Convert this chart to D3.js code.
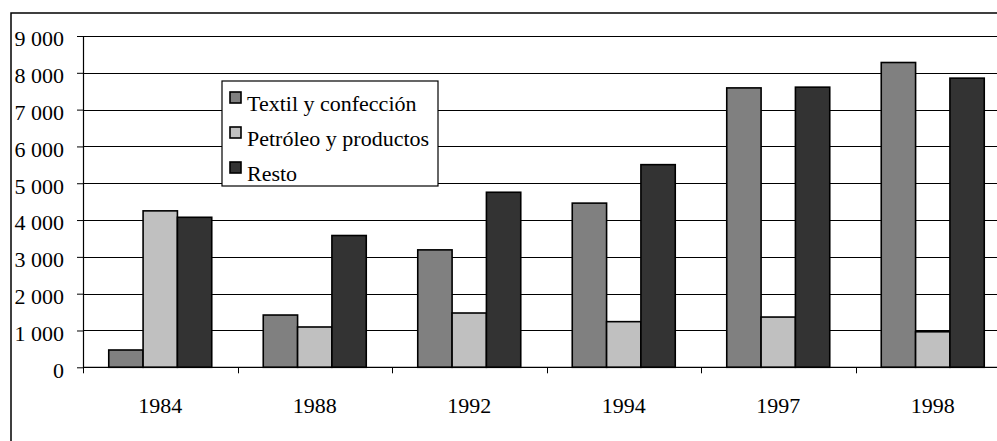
<!DOCTYPE html>
<html><head><meta charset="utf-8">
<script src="https://cdn.jsdelivr.net/npm/d3@7"></script>
<style>html,body{margin:0;padding:0;background:#fff;overflow:hidden}
svg text{font-family:"Liberation Serif","Times New Roman",Times,serif !important;}</style>
</head><body>
<script>
const categories = ["1984","1988","1992","1994","1997","1998"];
const seriesNames = ["Textil y confección","Petróleo y productos","Resto"];
const textil   = [470, 1420, 3190, 4460, 7590, 8280];
const petroleo = [4250, 1095, 1475, 1240, 1365, 965];
const resto    = [4075, 3580, 4755, 5505, 7610, 7855];
const yTicks = [0,1000,2000,3000,4000,5000,6000,7000,8000,9000];
const tickLabels = ["0","1 000","2 000","3 000","4 000","5 000","6 000","7 000","8 000","9 000"];
const colors = ["#808080","#c0c0c0","#333333"];
const series = [textil, petroleo, resto];

(function(){
const W = 997, H = 441;
const svg = d3.select("body").append("svg").attr("width", W).attr("height", H);

// outer frame (cropped)
svg.append("rect").attr("x", 11).attr("y", 13).attr("width", 1200).attr("height", 800)
  .attr("fill", "#fff").attr("stroke", "#000").attr("stroke-width", 1.5);

const pLeft = 83, pBottom = 367.3, pTop = 36, bandW = 154.5;
const x = d3.scaleBand().domain(categories).range([pLeft, pLeft + bandW * categories.length])
  .paddingInner(0).paddingOuter(0);
const y = d3.scaleLinear().domain([0, 9000]).range([pBottom, pTop]);
const inner = d3.scaleBand().domain(d3.range(3)).range([0, x.bandwidth()]).paddingInner(0).paddingOuter(0.75);

// gridlines
svg.append("g").selectAll("line").data(yTicks.filter(d => d > 0)).join("line")
  .attr("x1", pLeft).attr("x2", 1200)
  .attr("y1", d => Math.round(y(d)) + 0.5).attr("y2", d => Math.round(y(d)) + 0.5)
  .attr("stroke", "#000").attr("stroke-width", 1);

// bars
series.forEach((vals, si) => {
  svg.append("g").selectAll("rect").data(vals).join("rect")
    .attr("x", (d, i) => x(categories[i]) + inner(si))
    .attr("width", inner.bandwidth())
    .attr("y", d => y(d))
    .attr("height", d => y(0) - y(d))
    .attr("fill", colors[si]).attr("stroke", "#000").attr("stroke-width", 1.6);
});

// y axis
const yAxis = d3.axisLeft(y).tickValues(yTicks).tickSize(6).tickSizeOuter(0)
  .tickFormat((d, i) => tickLabels[i]).tickPadding(13);
const gy = svg.append("g").attr("transform", `translate(${pLeft},0)`).call(yAxis);
gy.attr("font-family", null).attr("font-size", 22);
gy.select(".domain").attr("stroke", "#000").attr("stroke-width", 1.2);
gy.selectAll(".tick line").attr("stroke", "#000");
gy.selectAll("text").attr("font-size", 22).attr("fill", "#000").attr("dy", "0.45em");

// x axis
const xAxis = d3.axisBottom(x).tickSize(0).tickPadding(30);
const gx = svg.append("g").attr("transform", `translate(0,${pBottom})`).call(xAxis);
gx.attr("font-family", null).attr("font-size", 22);
gx.select(".domain").remove();
gx.append("line").attr("x1", pLeft).attr("x2", 1200).attr("y1", 0).attr("y2", 0).attr("stroke", "#000").attr("stroke-width", 1.2);
gx.selectAll("text").attr("font-size", 22).attr("fill", "#000");
// category separator ticks
svg.append("g").selectAll("line").data(categories.concat(["end"])).join("line")
  .attr("x1", (d, i) => Math.round(pLeft + i * x.step()) + 0.5)
  .attr("x2", (d, i) => Math.round(pLeft + i * x.step()) + 0.5)
  .attr("y1", pBottom).attr("y2", pBottom + 6).attr("stroke", "#000");

// legend
const lg = svg.append("g").attr("transform", "translate(222,81)");
lg.append("rect").attr("width", 216).attr("height", 105).attr("fill", "#fff")
  .attr("stroke", "#000").attr("stroke-width", 1.2);
seriesNames.forEach((n, i) => {
  lg.append("rect").attr("x", 8).attr("y", 11 + i * 35).attr("width", 11).attr("height", 11)
    .attr("fill", colors[i]).attr("stroke", "#000").attr("stroke-width", 1.6);
  lg.append("text").attr("x", 25).attr("y", 30 + i * 35).text(n)
    .attr("font-size", 22).attr("fill", "#000");
});
})();
</script>
</body></html>
